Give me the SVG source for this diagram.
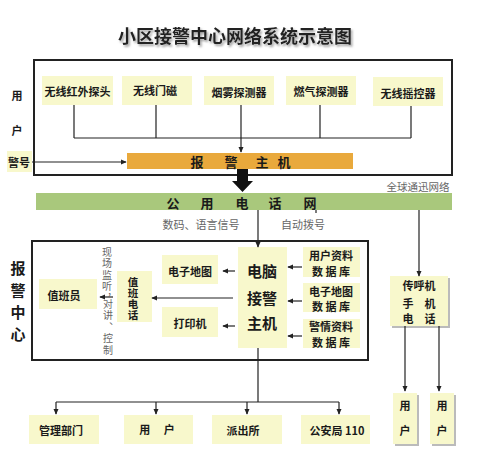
<svg xmlns="http://www.w3.org/2000/svg" width="480" height="452" viewBox="0 0 480 452">
<defs>
<style>
text{font-family:"Noto Sans CJK SC","Liberation Sans",sans-serif;fill:#1a1a1a;text-anchor:middle;dominant-baseline:central}
.b{font-weight:bold}
.s11{font-size:11px}
.vt{writing-mode:vertical-rl;text-anchor:start}
.g{fill:#666}
.box{fill:#f8f8cc}
.ln{stroke:#222;stroke-width:1.2;fill:none}
.frame{stroke:#222;stroke-width:2;fill:none}
.sh{fill:#bbb}
</style>
<marker id="ar" viewBox="0 0 8 8" refX="7" refY="4" markerWidth="6" markerHeight="6" orient="auto" markerUnits="userSpaceOnUse"><path d="M0,0.5 L8,4 L0,7.5 Z" fill="#222"/></marker>
<filter id="ts" x="-10%" y="-30%" width="130%" height="180%"><feDropShadow dx="1.5" dy="2" stdDeviation="1.2" flood-color="#888" flood-opacity="0.8"/></filter>
</defs>
<rect width="480" height="452" fill="#fff"/>

<text id="title" x="235" y="35" class="b" style="font-size:18px;fill:#222" filter="url(#ts)">小区接警中心网络系统示意图</text>

<g id="user-frame">
<rect x="34" y="60" width="418" height="115" class="frame"/>
<text x="17" y="95" class="b s11">用</text>
<text x="17" y="130" class="b s11">户</text>
</g>
<g id="alarm-no"><rect x="7" y="151" width="25" height="21" class="box"/><text x="19" y="162" class="b s11">警号</text></g>

<g id="s1"><rect x="42" y="76" width="71" height="29" class="box"/><text x="77.5" y="91" class="s11 b">无线红外探头</text></g>
<g id="s2"><rect x="122" y="76" width="70" height="29" class="box"/><text x="155" y="90" class="s11 b">无线门磁</text></g>
<g id="s3"><rect x="204" y="76" width="70" height="29" class="box"/><text x="239" y="92" class="s11 b">烟雾探测器</text></g>
<g id="s4"><rect x="286" y="76" width="70" height="29" class="box"/><text x="321" y="91" class="s11 b">燃气探测器</text></g>
<g id="s5"><rect x="373" y="77" width="70" height="29" class="box"/><text x="408" y="93" class="s11 b">无线摇控器</text></g>

<g id="host"><rect x="127" y="153" width="226" height="16" fill="#e9a93c"/>
<text x="197" y="161" class="b" style="font-size:13px">报</text><text x="231" y="161" class="b" style="font-size:13px">警</text><text x="262" y="161" class="b" style="font-size:13px">主</text><text x="284" y="161" class="b" style="font-size:13px">机</text></g>

<text id="global" x="418" y="186" class="g" style="font-size:10.5px">全球通迅网络</text>

<g id="pstn"><rect x="36" y="193" width="416" height="17" fill="#a9c87c"/>
<text x="173" y="202" class="b" style="font-size:13px">公</text><text x="207" y="202" class="b" style="font-size:13px">用</text><text x="242" y="202" class="b" style="font-size:13px">电</text><text x="275" y="202" class="b" style="font-size:13px">话</text><text x="310" y="202" class="b" style="font-size:13px">网</text></g>

<text x="201" y="224" class="g s11">数码、语言信号</text>
<text x="303" y="224" class="g s11">自动拨号</text>

<g id="center-frame">
<rect x="32" y="241" width="336" height="119" class="frame"/>
<text x="18" y="267" class="b" style="font-size:15px">报</text>
<text x="18" y="289" class="b" style="font-size:15px">警</text>
<text x="18" y="311" class="b" style="font-size:15px">中</text>
<text x="18" y="333" class="b" style="font-size:15px">心</text>
</g>

<g id="duty"><rect x="39" y="279" width="58" height="30" class="box"/><text x="64" y="295" class="s11 b">值班员</text></g>
<g id="monitor">
<text x="107" y="247" class="g vt" style="font-size:10px;letter-spacing:1.5px">现场监听，</text>
<text x="108" y="299" class="g vt" style="font-size:10px;letter-spacing:1.5px">对讲、控制</text>
</g>
<g id="dutyphone"><rect x="117" y="271" width="35" height="51" class="box"/>
<text x="133" y="276.5" class="b vt" style="font-size:10.5px;letter-spacing:0.5px">值班电话</text></g>
<g id="emap"><rect x="162" y="255" width="56" height="29" class="box"/><text x="190" y="271" class="s11 b">电子地图</text></g>
<g id="printer"><rect x="162" y="307" width="56" height="30" class="box"/><text x="190" y="323" class="s11 b">打印机</text></g>
<g id="pc"><rect x="238" y="247" width="49" height="101" class="box"/>
<text class="b" style="font-size:15px"><tspan x="262" y="270">电脑</tspan><tspan x="262" y="297">接警</tspan><tspan x="262" y="322">主机</tspan></text></g>
<g id="db1"><rect x="303" y="247" width="57" height="30" class="box"/><text class="s11 b"><tspan x="331" y="255">用户资料</tspan><tspan x="331" y="270.5">数 据 库</tspan></text></g>
<g id="db2"><rect x="303" y="283" width="57" height="29" class="box"/><text class="s11 b"><tspan x="331" y="290.5">电子地图</tspan><tspan x="331" y="306">数 据 库</tspan></text></g>
<g id="db3"><rect x="303" y="319" width="57" height="29" class="box"/><text class="s11 b"><tspan x="331" y="326">警情资料</tspan><tspan x="331" y="341.5">数 据 库</tspan></text></g>

<g id="pager"><rect x="392" y="278" width="58" height="50" class="sh"/><rect x="390" y="276" width="58" height="50" class="box"/>
<text class="s11 b"><tspan x="419" y="285">传呼机</tspan><tspan x="419" y="303">手　机</tspan><tspan x="419" y="318">电　话</tspan></text></g>

<g id="b1"><rect x="29" y="415" width="70" height="29" class="box"/><text x="61" y="430" class="s11 b">管理部门</text></g>
<g id="b2"><rect x="124" y="415" width="69" height="29" class="box"/><text x="157" y="429" class="s11 b">用　 户</text></g>
<g id="b3"><rect x="212" y="415" width="70" height="29" class="box"/><text x="243" y="430" class="s11 b">派出所</text></g>
<g id="b4"><rect x="301" y="415" width="69" height="29" class="box"/><text x="337" y="430" class="s11 b">公安局 110</text></g>
<g id="u1"><rect x="395" y="395" width="24" height="51" class="sh"/><rect x="393" y="393" width="24" height="51" class="box"/><text x="405" y="405" class="s11 b">用</text><text x="405" y="430" class="s11 b">户</text></g>
<g id="u2"><rect x="432" y="395" width="24" height="51" class="sh"/><rect x="430" y="393" width="24" height="51" class="box"/><text x="442" y="405" class="s11 b">用</text><text x="442" y="430" class="s11 b">户</text></g>

<g id="connectors">
<path class="ln" d="M74,105 V138 M156,105 V138 M320,105 V138 M411,106 V138 M74,138 H411"/>
<path class="ln" d="M241,105 V152" marker-end="url(#ar)"/>
<path class="ln" d="M32,162 H126" marker-end="url(#ar)"/>
<path d="M237,169 H248 V181 H253 L242.5,192 L232,181 H237 Z" fill="#111"/>
<path class="ln" d="M258,210 V247" marker-end="url(#ar)"/>
<path class="ln" d="M316,210 V213"/>
<path class="ln" d="M419,210 V276" marker-end="url(#ar)"/>
<path class="ln" d="M235,271 H223" marker-end="url(#ar)"/>
<path class="ln" d="M235,326 H223" marker-end="url(#ar)"/>
<path class="ln" d="M233,298 H152" marker-end="url(#ar)"/>
<path class="ln" d="M113,297 H100" marker-end="url(#ar)"/>
<path class="ln" d="M302,267 H288" marker-end="url(#ar)"/>
<path class="ln" d="M302,301 H288" marker-end="url(#ar)"/>
<path class="ln" d="M302,336 H288" marker-end="url(#ar)"/>
<path class="ln" d="M258,348 V402 M56,402 H339"/>
<path class="ln" d="M56,402 V414" marker-end="url(#ar)"/>
<path class="ln" d="M156,402 V414" marker-end="url(#ar)"/>
<path class="ln" d="M247,402 V414" marker-end="url(#ar)"/>
<path class="ln" d="M339,402 V414" marker-end="url(#ar)"/>
<path class="ln" d="M405,326 V391" marker-end="url(#ar)"/>
<path class="ln" d="M439,326 V391" marker-end="url(#ar)"/>
</g>
</svg>
